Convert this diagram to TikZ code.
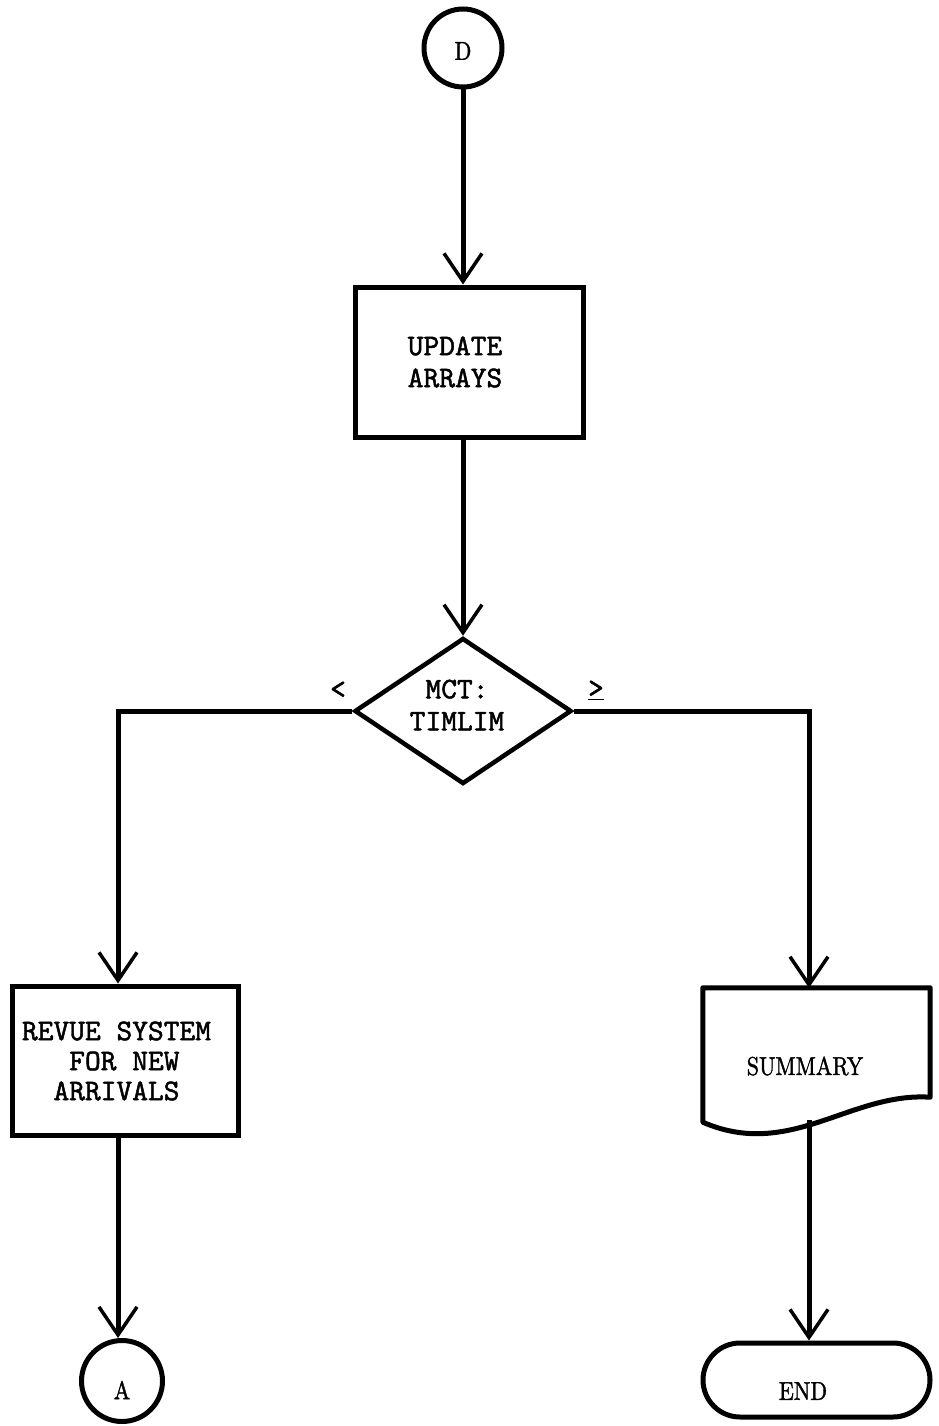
\documentclass[tikz,border=0pt]{standalone}
\usepackage{fontspec}
\usetikzlibrary{arrows.meta,shapes.geometric,shapes.misc}
% heavy typewriter and roman faces
\newfontfamily\twfont{lmmono10-regular}[Extension=.otf,FakeBold=1.6]
\newfontfamily\rmheavy{lmroman10-regular}[Extension=.otf,FakeBold=1.6]
\begin{document}
\begin{tikzpicture}[x=1pt,y=-1pt,
  conn/.style={line width=5pt},
  arr/.style={conn,-{Straight Barb[length=28pt,width=38pt,line width=3.5pt]}},
  box/.style={draw,line width=5pt,rectangle,inner sep=0pt},
  circ/.style={draw,line width=5pt,circle,inner sep=0pt,minimum size=#1},
  tw/.style={font=\fontsize{30}{32}\selectfont\twfont,align=center},
  rm/.style={font=\fontsize{22}{26}\selectfont\rmheavy,yscale=1.17,transform shape}]
\useasboundingbox (0,0) rectangle (938,1426);

% branch columns
\coordinate (leftx) at (118,0);
\coordinate (rightx) at (809,0);

% start connector
\node[circ=78pt] (D) at (463,48) {};
\node[rm] (Dtext) at (463,51) {D};

% processing box
\node[box,minimum width=228pt,minimum height=150pt] (upd) at (469,362) {};
\node[tw] (updtext) at (455,362) {UPDATE\\ARRAYS};

% decision
\node[draw,diamond,line width=4.5pt,inner sep=0pt,minimum width=217pt,minimum height=146pt,aspect=1.49] (dia) at (463,711) {};
\node[tw] (diatext) at (457,705) {MCT:\\TIMLIM};
\node[font=\fontsize{30}{32}\selectfont\twfont] (lt) at (338,690) {<};
\node[font=\fontsize{30}{32}\selectfont\twfont] (ge) at (596,690) {\underline{>}};

% left branch
\node[box,minimum width=226pt,minimum height=149pt] (revue) at (125,1060.5) {};
\node[font=\fontsize{30}{30}\selectfont\twfont,align=left] (revuetext) at (116.5,1061)
  {REVUE SYSTEM\\\phantom{xxx}FOR NEW\\\phantom{xx}ARRIVALS};
\node[circ=81pt] (A) at (122,1381) {};
\node[rm] (Atext) at (122,1390) {A};

% right branch: document (output) shape
\node[minimum width=227pt,minimum height=134pt,inner sep=0pt] (summary) at (816.5,1055) {};
\draw[line width=5pt,line join=round]
  (summary.north west) -- (summary.north east) -- ([yshift=25pt]summary.south east)
  .. controls (850,1092) and (790,1160) .. (summary.south west) -- cycle;
\node[rm] (sumtext) at (805,1066) {SUMMARY};
\coordinate (sumout) at (809,1120);

% terminal
\node[draw,rounded rectangle,line width=5pt,minimum width=227pt,minimum height=74pt,inner sep=0pt] (endn) at (816.5,1380) {};
\node[rm] (endtext) at (803,1391) {END};

% connectors
\draw[arr] (D.south) -- (upd.north -| D.south);
\draw[arr] (upd.south -| D.south) -- (dia.north);
\draw[arr] (dia.west) -| (revue.north -| leftx);
\draw[arr] (revue.south -| leftx) -- (A.north -| leftx);
\draw[arr] (dia.east) -| (summary.north -| rightx);
\draw[arr] (sumout) -- (endn.north -| rightx);
\end{tikzpicture}
\end{document}
